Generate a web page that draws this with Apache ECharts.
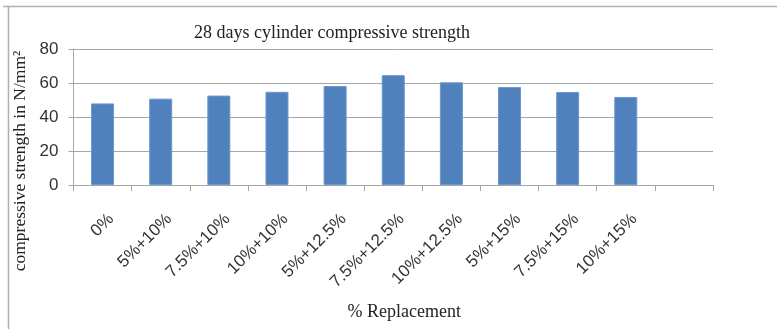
<!DOCTYPE html>
<html>
<head>
<meta charset="utf-8">
<script src="https://cdn.jsdelivr.net/npm/echarts@6/dist/echarts.min.js"></script>
<style>
html,body{margin:0;padding:0;background:#fff;}
#chart{width:777px;height:329px;}
</style>
</head>
<body>
<div id="chart"></div>
<script>
const categories = ['0%', '5%+10%', '7.5%+10%', '10%+10%', '5%+12.5%', '7.5%+12.5%', '10%+12.5%', '5%+15%', '7.5%+15%', '10%+15%', ''];
const strengthValues = [48.0, 50.8, 52.6, 54.8, 58.2, 64.6, 60.4, 57.6, 54.7, 51.8, null];
const yTicks = [0, 20, 40, 60, 80];
const titleText = '28 days cylinder compressive strength';
const yAxisTitle = 'compressive strength in N/mm\u00B2';
const xAxisTitle = '% Replacement';

const chart = echarts.init(document.getElementById('chart'), null, {renderer: 'canvas'});
const serif = '"Liberation Serif", "DejaVu Serif", serif';
const sans = '"Liberation Sans", Arial, sans-serif';

chart.setOption({
  animation: false,
  backgroundColor: '#fff',
  title: {
    text: titleText,
    left: 189,
    top: 19,
    textStyle: {fontFamily: serif, fontSize: 18, fontWeight: 'normal', color: '#222'}
  },
  grid: {left: 73.5, right: 64, top: 49, bottom: 144, containLabel: false},
  xAxis: {
    type: 'category',
    data: categories,
    name: xAxisTitle,
    nameLocation: 'middle',
    nameGap: 118,
    nameTextStyle: {fontFamily: serif, fontSize: 18, color: '#222', padding: [0, 0, 0, 22]},
    axisLine: {show: true, lineStyle: {color: '#a6a6a6', width: 1}},
    axisTick: {show: true, length: 6, lineStyle: {color: '#a6a6a6'}},
    axisLabel: {rotate: 45, margin: 40, fontFamily: sans, fontSize: 17, color: '#333', interval: 0, padding: [0, -12, 0, 0]},
    splitLine: {show: false}
  },
  yAxis: {
    type: 'value',
    min: yTicks[0],
    max: yTicks[yTicks.length - 1],
    interval: 20,
    axisLine: {show: true, lineStyle: {color: '#a6a6a6', width: 1}},
    axisTick: {show: true, length: 5, lineStyle: {color: '#a6a6a6'}},
    axisLabel: {fontFamily: sans, fontSize: 17, color: '#333', margin: 15},
    splitLine: {show: true, lineStyle: {color: '#a6a6a6', width: 1}}
  },
  series: [{
    type: 'bar',
    data: strengthValues,
    barWidth: 23,
    itemStyle: {color: '#4f81bd', borderColor: '#6b97cc', borderWidth: 1}
  }],
  graphic: [
    {type: 'line', shape: {x1: 3, y1: 6.5, x2: 777, y2: 6.5}, style: {stroke: '#b0b0b0', lineWidth: 1.5}, silent: true},
    {type: 'line', shape: {x1: 8.5, y1: 6, x2: 8.5, y2: 329}, style: {stroke: '#b0b0b0', lineWidth: 1.5}, silent: true},
    {type: 'text', x: 20, y: 161, rotation: Math.PI / 2,
     style: {text: yAxisTitle, fontFamily: serif, fontSize: 17.5, fill: '#222', textAlign: 'center', textVerticalAlign: 'middle'}}
  ]
});
</script>
</body>
</html>
